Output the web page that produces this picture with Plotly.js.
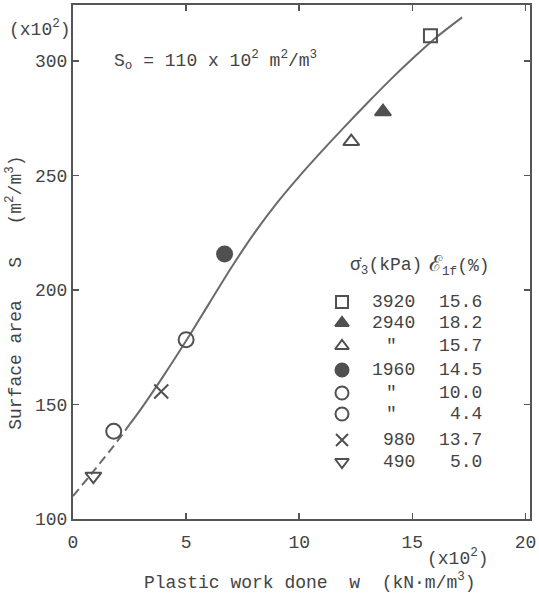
<!DOCTYPE html>
<html>
<head>
<meta charset="utf-8">
<script src="https://cdn.plot.ly/plotly-3.0.1.min.js"></script>
<style>body{margin:0;background:#fff}</style>
</head>
<body>
<div id="chart" style="width:539px;height:593px"></div>
<script>
// Fitted curve (plastic work w, x10^2 kN·m/m3) vs surface area S (x10^2 m2/m3)
const curveW = [0, 1, 2, 2.5, 3, 4, 5, 6, 7, 8, 9, 10, 11, 12, 13, 14, 15, 16, 17.2];
const curveS = [110, 122, 134.5, 141.3, 148, 162.5, 177.8, 193.8, 209.8, 224.6, 237.8, 249.6, 260.6, 271.2, 281.5, 291.5, 300.9, 309.8, 319];
const dashedUntil = 2.5;

// Test series
const seriesSigma3 = ["3920", "2940", "\"", "1960", "\"", "\"", "980", "490"];
const seriesEps1f = ["15.6", "18.2", "15.7", "14.5", "10.0", "4.4", "13.7", "5.0"];
const seriesW = [15.8, 13.7, 12.3, 6.7, 5.0, 1.8, 3.9, 0.9];
const seriesS = [311, 277.8, 264.8, 215.7, 178.3, 138.3, 155.7, 118.7];
const seriesSymbol = ["square-open", "triangle-up", "triangle-up-open", "circle", "circle-open", "circle-open", "x-thin-open", "triangle-down-open"];

const xTicks = [0, 5, 10, 15, 20];
const yTicks = [100, 150, 200, 250, 300];

const FONT = "Liberation Mono, DejaVu Sans Mono, monospace";
const INK = "#505050";
const TXT = "#444";

const dashW = [], dashS = [], solidW = [], solidS = [];
curveW.forEach((w, i) => {
  if (w <= dashedUntil) { dashW.push(w); dashS.push(curveS[i]); }
  if (w >= dashedUntil) { solidW.push(w); solidS.push(curveS[i]); }
});

const traces = [
  {x: dashW, y: dashS, mode: "lines", line: {color: "#6a6a6a", width: 2, dash: "9px,5px", shape: "spline", smoothing: 1}, hoverinfo: "skip"},
  {x: solidW, y: solidS, mode: "lines", line: {color: "#6a6a6a", width: 2, shape: "spline", smoothing: 1}, hoverinfo: "skip"}
];
seriesW.forEach((w, i) => {
  const sym = seriesSymbol[i];
  traces.push({
    x: [w], y: [seriesS[i]], mode: "markers",
    marker: {symbol: sym, size: sym.startsWith("circle") ? 15 : (sym.startsWith("square") ? 13 : 14),
             color: INK, line: {color: INK, width: 2}},
    name: seriesSigma3[i] + " " + seriesEps1f[i]
  });
});

// Legend keys drawn on an overlaid helper axis measured in page pixels
const legX = 342;
const legRows = [302, 323, 346, 370, 393, 414, 440, 462];
seriesSymbol.forEach((sym, i) => {
  traces.push({
    x: [legX], y: [legRows[i]], xaxis: "x2", yaxis: "y2", mode: "markers", hoverinfo: "skip",
    marker: {symbol: sym, size: sym.startsWith("circle") ? 13 : 12, color: INK, line: {color: INK, width: 2}}
  });
});

const annotations = [];
const tf = {family: FONT, size: 18, color: TXT};
legRows.forEach((y, i) => {
  const isDitto = seriesSigma3[i] === "\"";
  annotations.push({xref: "x2", yref: "y2", x: isDitto ? 391 : 417, y: y, text: seriesSigma3[i],
    xanchor: isDitto ? "center" : "right", yanchor: "middle", showarrow: false, font: tf});
  annotations.push({xref: "x2", yref: "y2", x: 484, y: y, text: seriesEps1f[i],
    xanchor: "right", yanchor: "middle", showarrow: false, font: tf});
});
annotations.push({xref: "x2", yref: "y2", x: 348, y: 266, text: "σ\u0307<sub>3</sub>(kPa)", xanchor: "left", yanchor: "middle", showarrow: false, font: tf});
annotations.push({xref: "x2", yref: "y2", x: 427, y: 265, text: "<span style=\"font-family:DejaVu Serif;font-size:22px\">ℰ</span><sub>1f</sub>(%)", xanchor: "left", yanchor: "middle", showarrow: false, font: tf});
annotations.push({xref: "x2", yref: "y2", x: 112, y: 60, text: "S<sub>o</sub>\u00a0= 110 x 10<sup>2</sup>\u00a0m<sup>2</sup>/m<sup>3</sup>", xanchor: "left", yanchor: "middle", showarrow: false, font: tf});
annotations.push({xref: "paper", yref: "paper", x: -0.145, y: 0.955, text: "(x10<sup>2</sup>)", xanchor: "left", yanchor: "middle", showarrow: false, font: tf});
annotations.push({xref: "paper", yref: "paper", x: 0.842, y: -0.074, text: "(x10<sup>2</sup>)", xanchor: "center", yanchor: "middle", showarrow: false, font: tf});
// Axis titles
annotations.push({xref: "paper", yref: "paper", x: 0.519, y: -0.122, text: "Plastic work done\u00a0\u00a0w\u00a0\u00a0(kN·m/m<sup>3</sup>)", xanchor: "center", yanchor: "middle", showarrow: false, font: tf});
annotations.push({xref: "paper", yref: "paper", x: -0.127, y: 0.44, textangle: -90, text: "Surface area\u00a0\u00a0\u00a0S\u00a0\u00a0\u00a0(m<sup>2</sup>/m<sup>3</sup>)", xanchor: "center", yanchor: "middle", showarrow: false, font: tf});

const axisCommon = {
  showline: true, linecolor: "#555", linewidth: 2, mirror: "ticks",
  ticks: "inside", ticklen: 6, tickwidth: 1.5, tickcolor: "#555",
  showgrid: false, zeroline: false, tickfont: tf
};

const layout = {
  width: 539, height: 593,
  margin: {l: 73, r: 9, t: 5, b: 74, pad: 0},
  paper_bgcolor: "#fff", plot_bgcolor: "#fff",
  showlegend: false,
  font: {family: FONT, color: TXT},
  xaxis: Object.assign({}, axisCommon, {
    range: [0, 20.2], tickvals: xTicks, ticktext: xTicks.map(String), ticklabelstandoff: 5
  }),
  yaxis: Object.assign({}, axisCommon, {
    range: [100, 324.4], tickvals: yTicks, ticktext: yTicks.map(String)
  }),
  xaxis2: {overlaying: "x", range: [73, 530], visible: false, fixedrange: true},
  yaxis2: {overlaying: "y", range: [519, 5], visible: false, fixedrange: true},
  annotations: annotations
};

Plotly.newPlot("chart", traces, layout, {displayModeBar: false, staticPlot: true});
</script>
</body>
</html>
